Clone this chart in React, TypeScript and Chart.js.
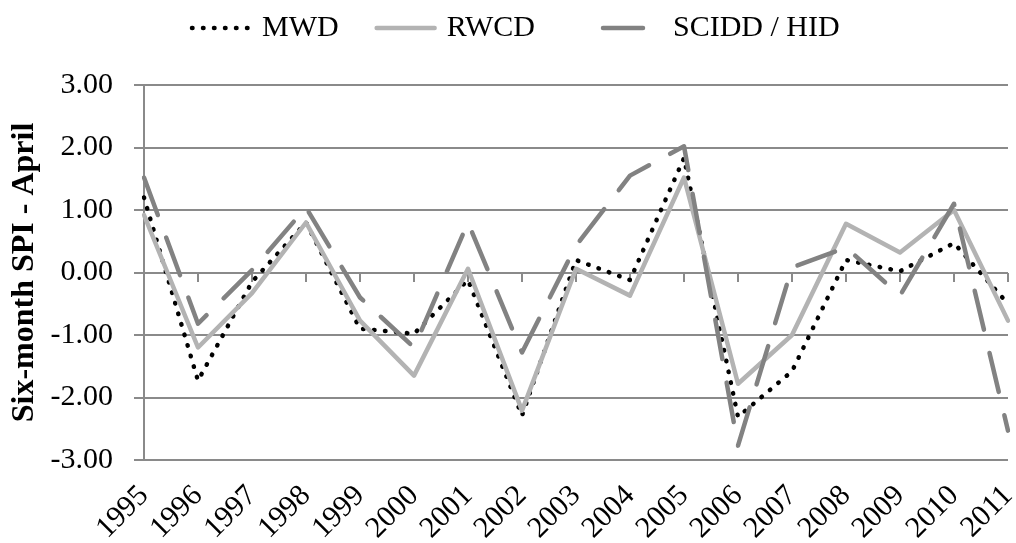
import { useEffect, useRef } from "react";
import { Chart, registerables } from "chart.js";

Chart.register(...registerables);

const years = ["1995", "1996", "1997", "1998", "1999", "2000", "2001", "2002", "2003", "2004", "2005", "2006", "2007", "2008", "2009", "2010", "2011"];
const mwd = [1.2, -1.73, -0.15, 0.8, -0.9, -0.98, -0.12, -2.29, 0.2, -0.12, 1.83, -2.31, -1.58, 0.2, 0.02, 0.47, -0.5];
const rwcd = [0.92, -1.2, -0.33, 0.8, -0.77, -1.65, 0.06, -2.21, 0.06, -0.37, 1.52, -1.78, -1.0, 0.78, 0.32, 1.0, -0.77];
const scidd = [1.52, -0.82, 0.04, 1.04, -0.4, -1.2, 0.8, -1.28, 0.43, 1.55, 2.02, -2.77, 0.08, 0.4, -0.37, 1.1, -2.53];
const seriesLabels = ["MWD", "RWCD", "SCIDD / HID"];
const yTitle = "Six-month SPI - April";
const yMin = -3;
const yMax = 3;
const yStep = 1;

const FONT = "'Liberation Serif', 'Times New Roman', serif";
const GRID = "#8a8a8a";

const xTickMarks = {
  id: "xTickMarks",
  beforeDatasetsDraw(chart: any) {
    const xs = chart.scales.x;
    const ys = chart.scales.y;
    const y0 = Math.round(ys.getPixelForValue(0));
    const ctx = chart.ctx;
    ctx.save();
    ctx.strokeStyle = GRID;
    ctx.lineWidth = 2;
    ctx.beginPath();
    for (let i = 0; i < years.length; i++) {
      const px = Math.round(xs.getPixelForValue(i));
      ctx.moveTo(px, y0);
      ctx.lineTo(px, y0 + 9);
    }
    ctx.stroke();
    ctx.restore();
  },
};

const lineLegend = {
  id: "lineLegend",
  afterDraw(chart: any, _args: any, opts: any) {
    const ctx = chart.ctx;
    ctx.save();
    ctx.font = `30px ${FONT}`;
    const L = 62;
    const gap = 10;
    const spacings: number[] = opts.spacings;
    let cx = opts.startX;
    const cy = opts.y;
    chart.data.datasets.forEach((ds: any, i: number) => {
      const w = ctx.measureText(ds.label).width;
      ctx.strokeStyle = ds.borderColor;
      ctx.lineWidth = ds.borderWidth;
      ctx.setLineDash(ds.borderDash || []);
      ctx.lineCap = ds.borderCapStyle || "butt";
      ctx.beginPath();
      ctx.moveTo(cx + 2, cy);
      ctx.lineTo(cx + L - 2, cy);
      ctx.stroke();
      ctx.setLineDash([]);
      ctx.fillStyle = "#000";
      ctx.textBaseline = "middle";
      ctx.textAlign = "left";
      ctx.fillText(ds.label, cx + L + gap, cy);
      cx += L + gap + w + (spacings[i] || 0);
    });
    ctx.restore();
  },
};

export default function App() {
  const ref = useRef<HTMLCanvasElement | null>(null);

  useEffect(() => {
    if (!ref.current) return;
    Chart.defaults.font.family = FONT;
    const chart = new Chart(ref.current, {
      type: "line",
      data: {
        labels: years,
        datasets: [
          {
            label: seriesLabels[0],
            data: mwd,
            borderColor: "#000000",
            borderWidth: 4.5,
            borderDash: [0.5, 10.5],
            borderCapStyle: "round",
            borderJoinStyle: "round",
            pointRadius: 0,
            tension: 0,
            fill: false,
            order: 3,
          },
          {
            label: seriesLabels[1],
            data: rwcd,
            borderColor: "#b3b3b3",
            borderWidth: 4.5,
            borderCapStyle: "round",
            borderJoinStyle: "round",
            pointRadius: 0,
            tension: 0,
            fill: false,
            order: 2,
          },
          {
            label: seriesLabels[2],
            data: scidd,
            borderColor: "#828282",
            borderWidth: 4.5,
            borderDash: [40, 24],
            borderCapStyle: "round",
            borderJoinStyle: "round",
            pointRadius: 0,
            tension: 0,
            fill: false,
            order: 1,
          },
        ],
      },
      options: {
        animation: false,
        responsive: false,
        layout: { padding: { top: 85, right: 8, left: 0, bottom: 0 } },
        plugins: {
          legend: { display: false },
          tooltip: { enabled: false },
          lineLegend: { startX: 190, y: 28, spacings: [36, 66] },
        } as any,
        scales: {
          x: {
            type: "category",
            offset: false,
            grid: { display: false, drawTicks: false },
            border: { display: false },
            ticks: {
              autoSkip: false,
              minRotation: 45,
              maxRotation: 45,
              padding: 31,
              color: "#000",
              font: { family: FONT, size: 30, lineHeight: 0.01 },
            },
            afterFit(s: any) {
              s.height = 83;
              s.paddingRight = 0;
              s.paddingLeft = 0;
            },
          },
          y: {
            min: yMin,
            max: yMax,
            ticks: {
              stepSize: yStep,
              padding: 21,
              color: "#000",
              font: { family: FONT, size: 30 },
              callback: (v: any) => Number(v).toFixed(2),
            },
            grid: { color: GRID, lineWidth: 2, tickLength: 10, drawTicks: true },
            border: { color: GRID, width: 2 },
            title: {
              display: true,
              text: yTitle,
              color: "#000",
              font: { family: FONT, size: 32, weight: "bold" },
              padding: { top: 6, bottom: 0 },
            },
            afterFit(s: any) {
              s.width = 144;
            },
          },
        },
      } as any,
      plugins: [xTickMarks, lineLegend],
    });
    return () => chart.destroy();
  }, []);

  return (
    <div style={{ position: "fixed", left: 0, top: 0, width: 1016, height: 543, background: "#fff" }}>
      <canvas ref={ref} width={1016} height={543} style={{ display: "block" }} />
    </div>
  );
}
